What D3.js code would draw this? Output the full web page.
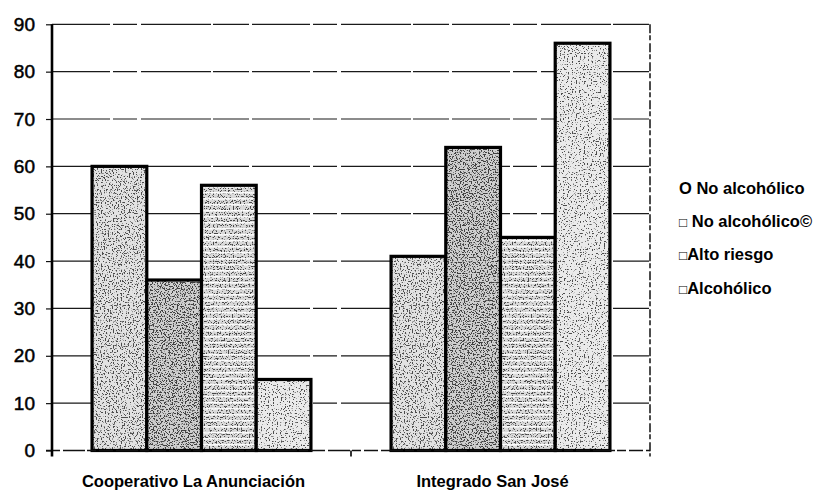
<!DOCTYPE html>
<html>
<head>
<meta charset="utf-8">
<script src="https://cdn.jsdelivr.net/npm/d3@7"></script>
<style>
  html, body { margin: 0; padding: 0; background: #fff; }
  svg { display: block; }
  text { font-family: "Liberation Sans", Arial, Helvetica, sans-serif; fill: #000; }
</style>
</head>
<body>
<svg id="chart" width="821" height="491"></svg>
<script>
// Schools compared and the drinking-profile categories
const schools = ["Cooperativo La Anunciación", "Integrado San José"];
const seriesNames = ["O No alcohólico", "□ No alcohólico©", "□Alto riesgo", "□Alcohólico"];

// Percentages per category, one value per school
const noAlcoholico = [60, 41];
const noAlcoholicoC = [36, 64];
const altoRiesgo = [56, 45];
const alcoholico = [15, 86];

const yTicks = [0, 10, 20, 30, 40, 50, 60, 70, 80, 90];

const seriesValues = [noAlcoholico, noAlcoholicoC, altoRiesgo, alcoholico];

const svg = d3.select("#chart");
const defs = svg.append("defs");

// stippled fills: a flat grey overlaid with thresholded noise specks
const fillStyles = [
  { base: "#e2e2e2", freq: 0.75, cut: 0.44, ink: 0.3, seed: 3 },
  { base: "#cfcfcf", freq: 0.75, cut: 0.48, ink: 0.25, seed: 7 },
  { base: "#dadada", freq: 0.75, cut: 0.45, ink: 0.28, seed: 11 },
  { base: "#eaeaea", freq: 0.75, cut: 0.41, ink: 0.3, seed: 17 }
];
fillStyles.forEach((s, i) => {
  const f = defs.append("filter")
    .attr("id", "grain" + i)
    .attr("x", 0).attr("y", 0).attr("width", 1).attr("height", 1)
    .attr("color-interpolation-filters", "sRGB");
  f.append("feTurbulence")
    .attr("type", "fractalNoise")
    .attr("baseFrequency", s.freq)
    .attr("numOctaves", 1)
    .attr("seed", s.seed)
    .attr("result", "noise");
  f.append("feColorMatrix")
    .attr("in", "noise")
    .attr("type", "matrix")
    .attr("values", `0 0 0 0 ${s.ink}  0 0 0 0 ${s.ink}  0 0 0 0 ${s.ink}  -14 0 0 0 ${(14 * s.cut).toFixed(3)}`)
    .attr("result", "dots");
  f.append("feComposite")
    .attr("in", "dots").attr("in2", "SourceGraphic")
    .attr("operator", "in").attr("result", "clipped");
  const m = f.append("feMerge");
  m.append("feMergeNode").attr("in", "SourceGraphic");
  m.append("feMergeNode").attr("in", "clipped");
});

// horizontal white banding used by the "Alto riesgo" bars
const stripes = defs.append("pattern")
  .attr("id", "stripes")
  .attr("patternUnits", "userSpaceOnUse")
  .attr("width", 8).attr("height", 6);
stripes.append("rect")
  .attr("x", 0).attr("y", 0).attr("width", 8).attr("height", 1.6)
  .attr("fill", "#fff").attr("fill-opacity", 0.9);

// scales
const plotLeft = 52, plotRight = 650, plotTop = 24.3, plotBottom = 450.5;
const x = d3.scaleBand()
  .domain(schools)
  .range([plotLeft, plotRight])
  .paddingInner(0.268)
  .paddingOuter(0.134);
const xs = d3.scaleBand()
  .domain(d3.range(seriesNames.length))
  .range([0, x.bandwidth()])
  .padding(0);
const y = d3.scaleLinear().domain([0, 90]).range([plotBottom, plotTop]);

// horizontal gridlines
svg.append("g")
  .selectAll("line")
  .data(yTicks.filter(d => d > 0))
  .join("line")
  .attr("x1", plotLeft).attr("x2", plotRight)
  .attr("y1", d => y(d)).attr("y2", d => y(d))
  .attr("stroke", "#1a1a1a")
  .attr("stroke-width", 1.2)
  .attr("stroke-dasharray", "58 3 24 4 70 2 36 3");

// right frame edge
svg.append("line")
  .attr("x1", plotRight).attr("x2", plotRight)
  .attr("y1", plotTop).attr("y2", plotBottom + 6)
  .attr("stroke", "#111").attr("stroke-width", 1.5)
  .attr("stroke-dasharray", "9 2 5 3");

// bars
const groups = svg.append("g")
  .selectAll("g")
  .data(schools)
  .join("g")
  .attr("transform", d => `translate(${x(d)},0)`);

groups.each(function (school, si) {
  const g = d3.select(this);
  seriesValues.forEach((vals, k) => {
    const v = vals[si];
    const bx = xs(k), bw = xs.bandwidth();
    g.append("rect")
      .attr("x", bx).attr("y", y(v))
      .attr("width", bw).attr("height", y(0) - y(v))
      .attr("fill", fillStyles[k].base)
      .attr("filter", `url(#grain${k})`);
    if (k === 2) {
      g.append("rect")
        .attr("x", bx).attr("y", y(v))
        .attr("width", bw).attr("height", y(0) - y(v))
        .attr("fill", "url(#stripes)");
    }
    g.append("rect")
      .attr("x", bx).attr("y", y(v))
      .attr("width", bw).attr("height", y(0) - y(v))
      .attr("fill", "none")
      .attr("stroke", "#000")
      .attr("stroke-width", 3.2);
  });
});

// baseline
svg.append("line")
  .attr("x1", plotLeft - 6).attr("x2", plotRight)
  .attr("y1", y(0)).attr("y2", y(0))
  .attr("stroke", "#111").attr("stroke-width", 1.4)
  .attr("stroke-dasharray", "14 3 22 2 9 3");

// category tick between the two schools
const boundaries = [x(schools[1]) - x.step() * x.paddingInner() / 2];
svg.append("g")
  .selectAll("line")
  .data(boundaries)
  .join("line")
  .attr("x1", d => d).attr("x2", d => d)
  .attr("y1", y(0)).attr("y2", y(0) + 6)
  .attr("stroke", "#000").attr("stroke-width", 1.6);

// value axis
const yAxis = svg.append("g")
  .attr("transform", `translate(${plotLeft},0)`)
  .call(d3.axisLeft(y).tickValues(yTicks).tickSize(6).tickPadding(11).tickFormat(d3.format("d")));
yAxis.select(".domain").remove();
yAxis.selectAll(".tick line").attr("stroke", "#111").attr("stroke-width", 1.2);
yAxis.selectAll(".tick text")
  .style("font-size", "19px")
  .style("font-family", "'Liberation Sans', Arial, sans-serif")
  .attr("fill", "#000")
  .attr("stroke", "#000").attr("stroke-width", 0.5);
svg.append("line")
  .attr("x1", plotLeft).attr("x2", plotLeft)
  .attr("y1", plotTop).attr("y2", plotBottom + 6)
  .attr("stroke", "#000").attr("stroke-width", 2.6);

// category labels
svg.append("g")
  .selectAll("text")
  .data(schools)
  .join("text")
  .attr("x", d => x(d) + x.bandwidth() / 2)
  .attr("dx", -8)
  .attr("y", 487)
  .attr("text-anchor", "middle")
  .style("font-size", "16.5px")
  .style("font-weight", "bold")
  .text(d => d);

// legend: the leading box glyph is set smaller than the label text
const legendText = svg.append("g")
  .selectAll("text")
  .data(seriesNames)
  .join("text")
  .attr("x", 679)
  .attr("y", (d, i) => 194 + i * 33.2)
  .style("font-size", "16.5px")
  .style("font-weight", "bold");
legendText.each(function (d) {
  const t = d3.select(this);
  if (d.startsWith("□")) {
    t.append("tspan").style("font-size", "13.5px").style("font-weight", "normal").text("□");
    t.append("tspan").text(d.slice(1));
  } else {
    t.text(d);
  }
});
</script>
</body>
</html>
